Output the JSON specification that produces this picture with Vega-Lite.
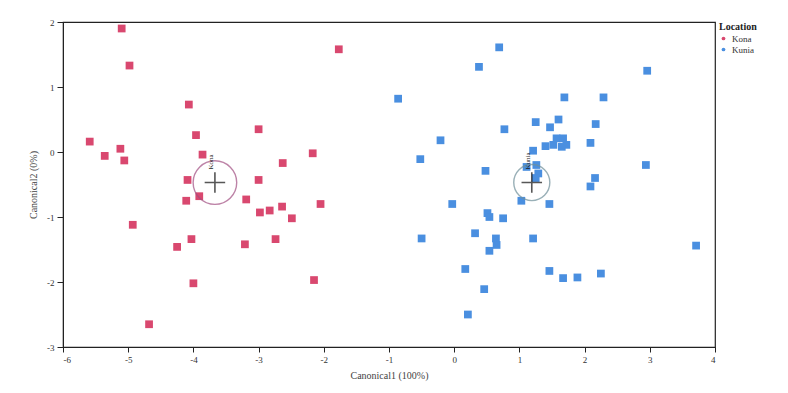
{
  "$schema": "https://vega.github.io/schema/vega-lite/v6.json",
  "width": 652,
  "height": 325,
  "autosize": "none",
  "padding": {"left": 63, "top": 22, "right": 73, "bottom": 46},
  "background": "white",
  "config": {
    "view": {"stroke": "#222222", "strokeWidth": 1.2},
    "font": "Liberation Serif",
    "axis": {"domainColor": "#222222", "tickColor": "#222222", "labelColor": "#333333", "titleColor": "#444444", "labelFont": "Liberation Serif", "titleFont": "Liberation Serif", "labelFontSize": 9, "titleFontSize": 10, "titleFontWeight": "normal", "grid": false}
  },
  "datasets": {
    "pts": [
      {"Location": "Kona", "c1": -5.10, "c2": 1.90},
      {"Location": "Kona", "c1": -4.98, "c2": 1.33},
      {"Location": "Kona", "c1": -1.77, "c2": 1.58},
      {"Location": "Kona", "c1": -4.07, "c2": 0.73},
      {"Location": "Kona", "c1": -5.59, "c2": 0.16},
      {"Location": "Kona", "c1": -5.36, "c2": -0.06},
      {"Location": "Kona", "c1": -5.12, "c2": 0.05},
      {"Location": "Kona", "c1": -5.06, "c2": -0.13},
      {"Location": "Kona", "c1": -3.96, "c2": 0.26},
      {"Location": "Kona", "c1": -3.00, "c2": 0.35},
      {"Location": "Kona", "c1": -3.86, "c2": -0.04},
      {"Location": "Kona", "c1": -2.17, "c2": -0.02},
      {"Location": "Kona", "c1": -2.63, "c2": -0.17},
      {"Location": "Kona", "c1": -4.09, "c2": -0.43},
      {"Location": "Kona", "c1": -3.00, "c2": -0.43},
      {"Location": "Kona", "c1": -4.11, "c2": -0.75},
      {"Location": "Kona", "c1": -3.91, "c2": -0.68},
      {"Location": "Kona", "c1": -3.19, "c2": -0.73},
      {"Location": "Kona", "c1": -2.98, "c2": -0.93},
      {"Location": "Kona", "c1": -2.83, "c2": -0.90},
      {"Location": "Kona", "c1": -2.64, "c2": -0.84},
      {"Location": "Kona", "c1": -2.05, "c2": -0.80},
      {"Location": "Kona", "c1": -2.49, "c2": -1.02},
      {"Location": "Kona", "c1": -4.93, "c2": -1.12},
      {"Location": "Kona", "c1": -4.25, "c2": -1.46},
      {"Location": "Kona", "c1": -4.03, "c2": -1.34},
      {"Location": "Kona", "c1": -3.21, "c2": -1.42},
      {"Location": "Kona", "c1": -2.74, "c2": -1.34},
      {"Location": "Kona", "c1": -4.00, "c2": -2.02},
      {"Location": "Kona", "c1": -2.15, "c2": -1.97},
      {"Location": "Kona", "c1": -4.68, "c2": -2.65},
      {"Location": "Kunia", "c1": 0.69, "c2": 1.61},
      {"Location": "Kunia", "c1": 0.38, "c2": 1.31},
      {"Location": "Kunia", "c1": 2.96, "c2": 1.25},
      {"Location": "Kunia", "c1": -0.86, "c2": 0.82},
      {"Location": "Kunia", "c1": 1.69, "c2": 0.84},
      {"Location": "Kunia", "c1": 2.29, "c2": 0.84},
      {"Location": "Kunia", "c1": 1.25, "c2": 0.46},
      {"Location": "Kunia", "c1": 1.60, "c2": 0.50},
      {"Location": "Kunia", "c1": 1.47, "c2": 0.38},
      {"Location": "Kunia", "c1": 0.77, "c2": 0.35},
      {"Location": "Kunia", "c1": 2.17, "c2": 0.43},
      {"Location": "Kunia", "c1": -0.21, "c2": 0.18},
      {"Location": "Kunia", "c1": 1.57, "c2": 0.21},
      {"Location": "Kunia", "c1": 1.67, "c2": 0.21},
      {"Location": "Kunia", "c1": 1.52, "c2": 0.11},
      {"Location": "Kunia", "c1": 1.65, "c2": 0.08},
      {"Location": "Kunia", "c1": 1.40, "c2": 0.09},
      {"Location": "Kunia", "c1": 1.72, "c2": 0.11},
      {"Location": "Kunia", "c1": 2.09, "c2": 0.14},
      {"Location": "Kunia", "c1": -0.52, "c2": -0.11},
      {"Location": "Kunia", "c1": 1.21, "c2": 0.02},
      {"Location": "Kunia", "c1": 2.94, "c2": -0.20},
      {"Location": "Kunia", "c1": 0.48, "c2": -0.29},
      {"Location": "Kunia", "c1": 1.11, "c2": -0.23},
      {"Location": "Kunia", "c1": 1.26, "c2": -0.20},
      {"Location": "Kunia", "c1": 1.29, "c2": -0.33},
      {"Location": "Kunia", "c1": 1.25, "c2": -0.40},
      {"Location": "Kunia", "c1": 2.16, "c2": -0.40},
      {"Location": "Kunia", "c1": 2.09, "c2": -0.53},
      {"Location": "Kunia", "c1": 1.03, "c2": -0.75},
      {"Location": "Kunia", "c1": 1.46, "c2": -0.80},
      {"Location": "Kunia", "c1": -0.03, "c2": -0.80},
      {"Location": "Kunia", "c1": 0.51, "c2": -0.94},
      {"Location": "Kunia", "c1": 0.54, "c2": -1.00},
      {"Location": "Kunia", "c1": 0.75, "c2": -1.02},
      {"Location": "Kunia", "c1": -0.50, "c2": -1.33},
      {"Location": "Kunia", "c1": 0.32, "c2": -1.25},
      {"Location": "Kunia", "c1": 0.64, "c2": -1.33},
      {"Location": "Kunia", "c1": 0.65, "c2": -1.43},
      {"Location": "Kunia", "c1": 0.54, "c2": -1.52},
      {"Location": "Kunia", "c1": 1.21, "c2": -1.33},
      {"Location": "Kunia", "c1": 3.71, "c2": -1.44},
      {"Location": "Kunia", "c1": 0.17, "c2": -1.80},
      {"Location": "Kunia", "c1": 1.46, "c2": -1.83},
      {"Location": "Kunia", "c1": 1.67, "c2": -1.94},
      {"Location": "Kunia", "c1": 1.89, "c2": -1.93},
      {"Location": "Kunia", "c1": 2.25, "c2": -1.87},
      {"Location": "Kunia", "c1": 0.46, "c2": -2.11},
      {"Location": "Kunia", "c1": 0.21, "c2": -2.50}
    ],
    "means": [
      {"Location": "Kona", "c1": -3.67, "c2": -0.47, "ring": 1900},
      {"Location": "Kunia", "c1": 1.19, "c2": -0.47, "ring": 1300}
    ]
  },
  "layer": [
    {
      "data": {"name": "pts"},
      "mark": {"type": "point", "shape": "square", "filled": true, "opacity": 1, "size": 60},
      "encoding": {
        "x": {"field": "c1", "type": "quantitative", "scale": {"domain": [-6, 4], "nice": false, "zero": false},
          "axis": {"title": "Canonical1 (100%)", "values": [-6, -5, -4, -3, -2, -1, 0, 1, 2, 3, 4], "labelExpr": "toString(datum.value)", "tickSize": 5, "labelPadding": 3, "titlePadding": 6}},
        "y": {"field": "c2", "type": "quantitative", "scale": {"domain": [-3, 2], "nice": false, "zero": false},
          "axis": {"title": "Canonical2 (0%)", "values": [-3, -2.5, -2, -1.5, -1, -0.5, 0, 0.5, 1, 1.5, 2],
            "labelExpr": "datum.value % 1 === 0 ? toString(datum.value) : ''",
            "tickSize": {"condition": {"test": "datum.value % 1 !== 0", "value": 3}, "value": 6},
            "labelPadding": 3, "titlePadding": 8}},
        "color": {"field": "Location", "type": "nominal",
          "scale": {"domain": ["Kona", "Kunia"], "range": ["#d9486f", "#4a8fe0"]},
          "legend": {"title": "Location", "orient": "right", "offset": 4, "symbolType": "circle", "symbolSize": 14,
            "titleFont": "Liberation Serif", "titleFontSize": 10, "titleFontWeight": "bold", "titleColor": "#222222",
            "labelFont": "Liberation Serif", "labelFontSize": 9, "labelColor": "#333333", "rowPadding": 1, "titlePadding": 2}}
      }
    },
    {
      "data": {"name": "means"},
      "transform": [{"filter": "datum.Location === 'Kona'"}],
      "mark": {"type": "point", "shape": "circle", "filled": false, "stroke": "#a24f82", "strokeWidth": 1.4},
      "encoding": {
        "x": {"field": "c1", "type": "quantitative"},
        "y": {"field": "c2", "type": "quantitative"},
        "size": {"field": "ring", "type": "quantitative", "scale": null, "legend": null}
      }
    },
    {
      "data": {"name": "means"},
      "transform": [{"filter": "datum.Location === 'Kunia'"}],
      "mark": {"type": "point", "shape": "circle", "filled": false, "stroke": "#6f8f9a", "strokeWidth": 1.4},
      "encoding": {
        "x": {"field": "c1", "type": "quantitative"},
        "y": {"field": "c2", "type": "quantitative"},
        "size": {"field": "ring", "type": "quantitative", "scale": null, "legend": null}
      }
    },
    {
      "data": {"name": "means"},
      "mark": {"type": "point", "shape": "M-1,0H1M0,-1V1", "filled": false, "stroke": "#111111", "strokeWidth": 1.6, "size": 420},
      "encoding": {
        "x": {"field": "c1", "type": "quantitative"},
        "y": {"field": "c2", "type": "quantitative"}
      }
    },
    {
      "data": {"name": "means"},
      "mark": {"type": "text", "angle": 270, "align": "left", "baseline": "middle", "fontSize": 7, "font": "Liberation Serif", "color": "#222222", "xOffset": -4, "yOffset": -13},
      "encoding": {
        "x": {"field": "c1", "type": "quantitative"},
        "y": {"field": "c2", "type": "quantitative"},
        "text": {"field": "Location", "type": "nominal"}
      }
    }
  ]
}
